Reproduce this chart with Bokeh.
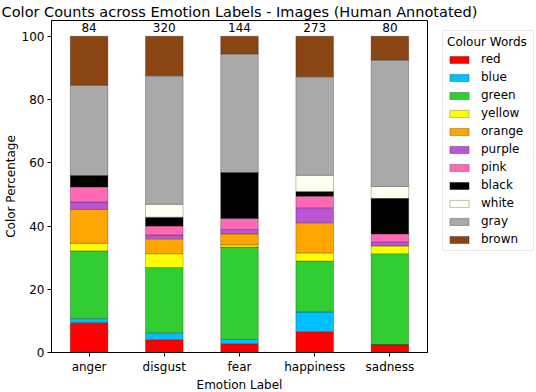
import numpy as np
from bokeh.plotting import figure
from bokeh.models import ColumnDataSource, FactorRange, Range1d, Legend, LegendItem, FixedTicker
from bokeh.embed import file_html
from bokeh.resources import INLINE

emotions = ["anger", "disgust", "fear", "happiness", "sadness"]
colour_words = ["red", "blue", "green", "yellow", "orange", "purple", "pink", "black", "white", "gray", "brown"]
fill_colors = ["#ff0000", "#00bfff", "#32cd32", "#ffff00", "#ffa500", "#ba55d3", "#ff69b4", "#000000", "#fffff0", "#a9a9a9", "#8b4513"]

# counts per colour word for each emotion
red = [8, 13, 4, 18, 2]
blue = [1, 7, 2, 17, 0]
green = [18, 66, 42, 44, 23]
yellow = [2, 14, 1, 7, 2]
orange = [9, 15, 5, 26, 0]
purple = [2, 4, 2, 13, 1]
pink = [4, 9, 5, 10, 2]
black = [3, 9, 21, 4, 9]
white = [0, 13, 0, 14, 3]
gray = [24, 130, 54, 85, 32]
brown = [13, 40, 8, 35, 6]

y_ticks = [0, 20, 40, 60, 80, 100]

counts = dict(red=red, blue=blue, green=green, yellow=yellow, orange=orange, purple=purple,
              pink=pink, black=black, white=white, gray=gray, brown=brown)
totals = np.sum([counts[c] for c in colour_words], axis=0)

data = {"emotion": emotions}
for c in colour_words:
    data[c] = list(np.array(counts[c]) / totals * 100.0)
source = ColumnDataSource(data)

FONT = "DejaVu Sans"

p = figure(x_range=FactorRange(*emotions), y_range=Range1d(0, 105),
           frame_width=376, frame_height=332, output_backend="svg", toolbar_location=None,
           title="Color Counts across Emotion Labels - Images (Human Annotated)")
p.min_border_left = 4
p.min_border_right = 108
p.min_border_top = 2
p.min_border_bottom = 0

p.title.align = "center"
p.title.text_font = FONT
p.title.text_font_size = "14.5px"
p.title.text_font_style = "normal"
p.title.text_color = "black"
p.title.standoff = 2
p.title.offset = 0

renderers = p.vbar_stack(colour_words, x="emotion", width=0.5, color=fill_colors,
                         line_color="black", line_alpha=0.25, line_width=1, source=source)

label_src = ColumnDataSource(dict(x=emotions, y=[100] * 5, t=[str(int(v)) for v in totals]))
p.text(x="x", y="y", text="t", source=label_src, text_align="center", text_baseline="bottom",
       text_font_size="12px", text_color="black", y_offset=-4,
       text_font={"value": FONT})

p.xgrid.visible = False
p.ygrid.visible = False
p.outline_line_color = "black"
p.outline_line_width = 1
p.outline_line_alpha = 1

for ax in (p.xaxis, p.yaxis):
    ax.axis_line_color = "black"
    ax.major_tick_line_color = "black"
    ax.major_tick_out = 4
    ax.major_tick_in = 0
    ax.minor_tick_line_color = None
    ax.major_label_text_font = FONT
    ax.major_label_text_font_size = "12px"
    ax.major_label_text_color = "black"
    ax.axis_label_text_font = FONT
    ax.axis_label_text_font_size = "12px"
    ax.axis_label_text_font_style = "normal"
    ax.axis_label_text_color = "black"
    ax.major_label_standoff = 3
    ax.axis_label_standoff = 1

p.yaxis.ticker = FixedTicker(ticks=y_ticks)
p.xaxis.axis_label = "Emotion Label"
p.yaxis.axis_label = "Color Percentage"

items = [LegendItem(label=c, renderers=[r]) for c, r in zip(colour_words, renderers)]
legend = Legend(items=items, title="Colour Words", location=(15, 101))
legend.title_text_font = FONT
legend.title_text_font_size = "12px"
legend.title_text_font_style = "normal"
legend.title_text_color = "black"
legend.title_standoff = 3
legend.label_text_font = FONT
legend.label_text_font_size = "12px"
legend.label_text_color = "black"
legend.glyph_width = 24
legend.glyph_height = 9
legend.label_height = 14
legend.label_width = 48
legend.spacing = 4
legend.padding = 4
legend.margin = 0
legend.border_line_color = "#d0d0d0"
legend.border_line_width = 1
legend.border_radius = 3
legend.background_fill_color = "white"
legend.label_standoff = 10
p.add_layout(legend, "right")

open("out.html", "w").write(file_html(p, INLINE))
